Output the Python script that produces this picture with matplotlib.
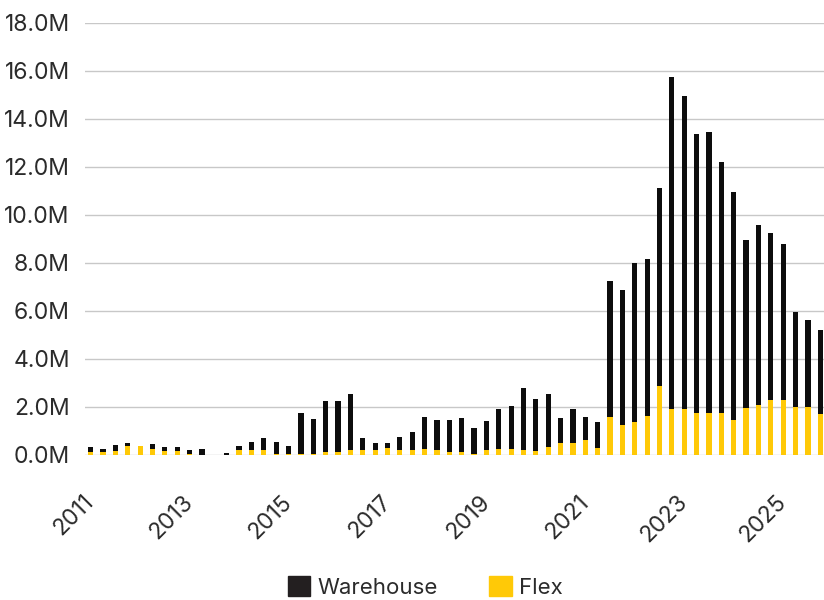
import numpy as np
import matplotlib
matplotlib.use('Agg')
import matplotlib.pyplot as plt
from matplotlib.patches import Patch

plt.rcParams['font.family'] = ['Inter', 'DejaVu Sans']

# quarterly net absorption, 2011 Q1 - 2025 Q4 (millions of sq ft)
quarters = [f'{y} Q{q}' for y in range(2011, 2026) for q in range(1, 5)]
flex = [0.11, 0.11, 0.13, 0.35, 0.36, 0.22, 0.14, 0.14,
        0.03, 0.00, 0.00, 0.00, 0.20, 0.20, 0.20, 0.01,
        0.01, 0.02, 0.04, 0.10, 0.10, 0.18, 0.18, 0.18,
        0.27, 0.20, 0.18, 0.24, 0.20, 0.10, 0.10, 0.04,
        0.20, 0.24, 0.24, 0.20, 0.14, 0.31, 0.48, 0.48,
        0.62, 0.29, 1.57, 1.22, 1.35, 1.61, 2.87, 1.90,
        1.90, 1.71, 1.72, 1.72, 1.43, 1.94, 2.07, 2.26,
        2.26, 1.97, 1.97, 1.67]
warehouse = [0.20, 0.14, 0.26, 0.13, 0.00, 0.20, 0.17, 0.17,
             0.14, 0.22, 0.00, 0.07, 0.14, 0.32, 0.49, 0.51,
             0.33, 1.73, 1.42, 2.11, 2.11, 2.33, 0.51, 0.32,
             0.19, 0.51, 0.77, 1.31, 1.24, 1.33, 1.44, 1.07,
             1.20, 1.66, 1.79, 2.57, 2.18, 2.22, 1.06, 1.41,
             0.95, 1.06, 5.67, 5.65, 6.62, 6.54, 8.26, 13.83,
             13.03, 11.64, 11.74, 10.47, 9.53, 7.00, 7.51, 6.96,
             6.51, 3.98, 3.64, 3.51]
year_labels = ['2011', '2013', '2015', '2017', '2019', '2021', '2023', '2025']
y_ticks = [0, 2, 4, 6, 8, 10, 12, 14, 16, 18]

BLACK = '#0d0d0d'
YELLOW = '#ffc907'
TEXT = '#2b2b2b'

fig = plt.figure(figsize=(8.24, 6), dpi=100)
ax = fig.add_axes([85 / 824, 145.5 / 600, 739 / 824, 431.8 / 600])

x = np.arange(len(quarters))
ax.bar(x, flex, width=0.42, color=YELLOW, zorder=3)
ax.bar(x, warehouse, width=0.42, bottom=flex, color=BLACK, zorder=3)

ax.set_xlim(-0.46, 59.3)
ax.set_ylim(0, 18)
ax.set_yticks(y_ticks)
ax.set_yticklabels([f'{v:.1f}M' for v in y_ticks])
ax.yaxis.grid(True, color='#c8c8c8', linewidth=1.0, zorder=0)
ax.set_axisbelow(True)

tick_pos = [quarters.index(f'{y} Q1') for y in year_labels]
ax.set_xticks(tick_pos)
ax.set_xticklabels(year_labels, rotation=45, ha='right', va='center',
                   rotation_mode='anchor')

for s in ax.spines.values():
    s.set_visible(False)
ax.tick_params(axis='y', length=0, pad=11, labelsize=16.5, labelcolor=TEXT)
ax.tick_params(axis='x', length=0, pad=32, labelsize=16.5, labelcolor=TEXT)

handles = [Patch(color='#231f20', label='Warehouse'),
           Patch(color=YELLOW, label='Flex')]
fig.legend(handles=handles, loc='center', bbox_to_anchor=(425.5 / 824, 1 - 587 / 600),
           ncol=2, frameon=False, fontsize=16, handlelength=1.0, handleheight=1.0,
           handletextpad=0.35, columnspacing=2.3, labelcolor=TEXT)

fig.savefig('out.png', dpi=100)
